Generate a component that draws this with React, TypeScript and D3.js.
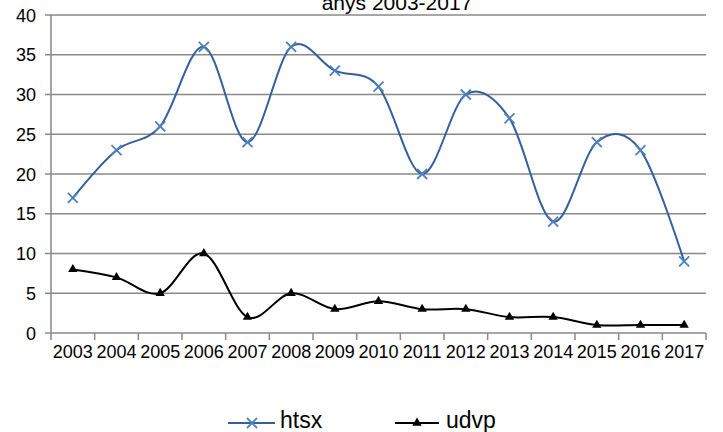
import React from "react";
import * as d3 from "d3";

const years = ["2003","2004","2005","2006","2007","2008","2009","2010","2011","2012","2013","2014","2015","2016","2017"];
const htsx = [17,23,26,36,24,36,33,31,20,30,27,14,24,23,9];
const udvp = [8,7,5,10,2,5,3,4,3,3,2,2,1,1,1];
const yTicks = [0,5,10,15,20,25,30,35,40];
const title = "anys 2003-2017";

const W = 723, H = 432;
const left = 51, right = 706, top = 15, bottom = 333;
const font = "'Liberation Sans', Arial, sans-serif";

export default function App() {
  const x = d3.scaleBand<string>().domain(years).range([left, right]);
  const y = d3.scaleLinear().domain([0, 40]).range([bottom, top]);
  const cx = (i: number) => (x(years[i]) as number) + x.bandwidth() / 2;
  const line = d3.line<number>().x((_, i) => cx(i)).y(d => y(d)).curve(d3.curveCardinal.tension(0));
  const tri = d3.symbol().type(d3.symbolTriangle).size(38)() as string;
  const bounds = years.map(yy => x(yy) as number).concat([right]);
  return (
    <svg width={W} height={H} style={{ position: "absolute", left: 0, top: 0, background: "#fff" }}>
      <text x={397} y={10} textAnchor="middle" fontFamily={font} fontSize={21}>{title}</text>
      {yTicks.map(t => (
        <g key={t}>
          <line x1={left - 6} x2={right} y1={y(t)} y2={y(t)} stroke="#898989" strokeWidth={1.5} />
          <text x={36} y={y(t) + 6.5} textAnchor="end" fontFamily={font} fontSize={18}>{t}</text>
        </g>
      ))}
      <line x1={left} x2={left} y1={top} y2={bottom} stroke="#898989" strokeWidth={1.5} />
      {bounds.map((b, i) => (
        <line key={i} x1={b} x2={b} y1={bottom} y2={bottom + 7} stroke="#898989" strokeWidth={1.5} />
      ))}
      {years.map((yy, i) => (
        <text key={yy} x={cx(i)} y={358} textAnchor="middle" fontFamily={font} fontSize={18}>{yy}</text>
      ))}
      <path d={line(htsx) as string} fill="none" stroke="#335F9E" strokeWidth={2} />
      {htsx.map((v, i) => (
        <g key={i} transform={`translate(${cx(i)},${y(v)})`} stroke="#4F81BD" strokeWidth={1.8}>
          <line x1={-5} y1={-5} x2={5} y2={5} />
          <line x1={-5} y1={5} x2={5} y2={-5} />
        </g>
      ))}
      <path d={line(udvp) as string} fill="none" stroke="#000" strokeWidth={2} />
      {udvp.map((v, i) => (
        <path key={i} d={tri} transform={`translate(${cx(i)},${y(v)})`} fill="#000" />
      ))}
      <g>
        <line x1={228} x2={275} y1={423} y2={423} stroke="#335F9E" strokeWidth={2} />
        <g transform="translate(252,423)" stroke="#4F81BD" strokeWidth={1.8}>
          <line x1={-5} y1={-5} x2={5} y2={5} />
          <line x1={-5} y1={5} x2={5} y2={-5} />
        </g>
        <text x={280} y={428} fontFamily={font} fontSize={23}>htsx</text>
        <line x1={395} x2={439} y1={423} y2={423} stroke="#000" strokeWidth={2} />
        <path d={tri} transform="translate(417,423)" fill="#000" />
        <text x={446} y={428} fontFamily={font} fontSize={23}>udvp</text>
      </g>
    </svg>
  );
}
